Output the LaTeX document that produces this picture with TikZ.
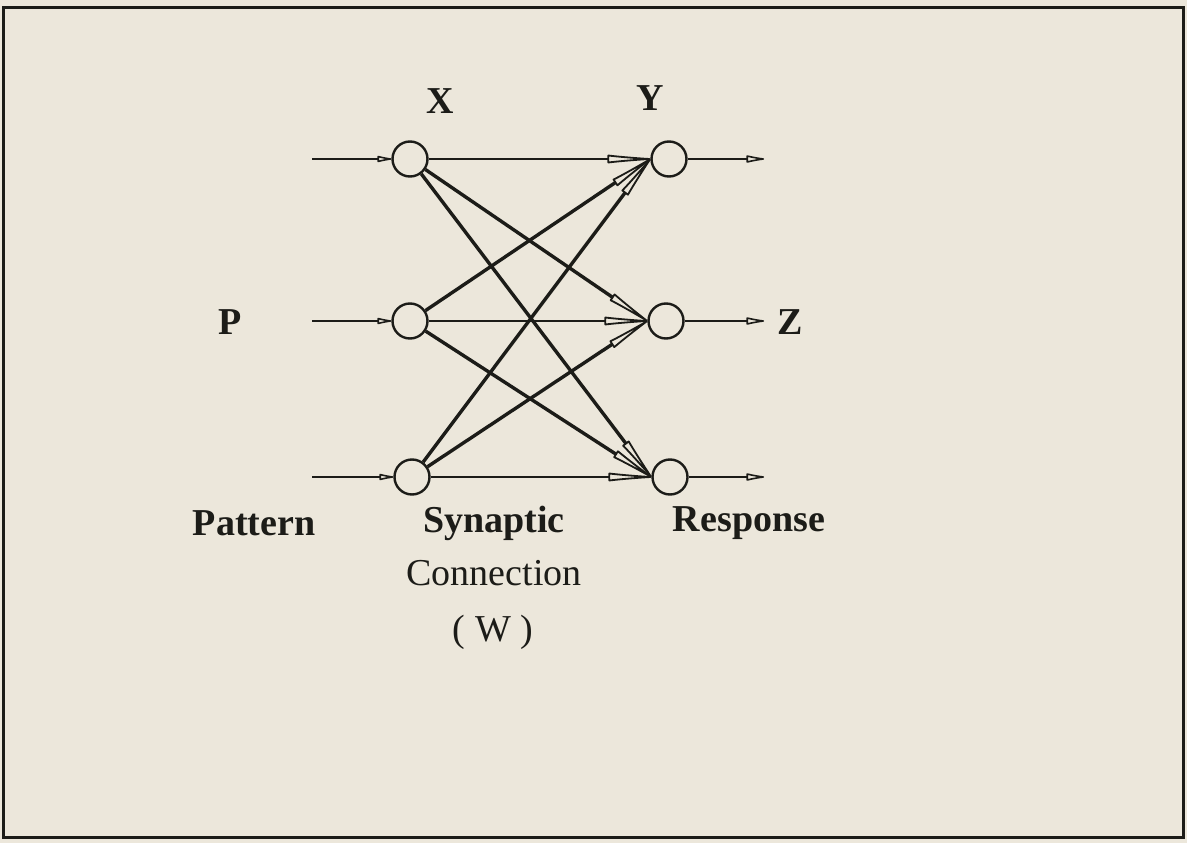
\documentclass[tikz,border=0pt]{standalone}
\usepackage{fontspec}
\setmainfont{Liberation Serif}
\usetikzlibrary{arrows.meta}
\definecolor{paper}{HTML}{ECE7DB}
\definecolor{ink}{HTML}{1C1C18}
\begin{document}
\begin{tikzpicture}[x=1pt,y=-1pt,
  neuron/.style={circle, draw=ink, line width=2.4pt, minimum size=35pt, inner sep=0pt},
  syn/.style={draw=ink, line width=3.4pt, -{Latex[open,round,length=60pt,width=9pt,line width=1.8pt]}},
  hor/.style={draw=ink, line width=2.2pt, -{Latex[open,round,length=60pt,width=9pt,line width=1.8pt]}},
  inarr/.style={draw=ink, line width=2pt, -{Latex[open,round,length=20pt,width=7pt,line width=1.6pt]}},
  outarr/.style={draw=ink, line width=2pt, -{Latex[open,round,length=24pt,width=8pt,line width=1.6pt]}},
  blab/.style={text=ink, font=\fontsize{38}{44}\selectfont\bfseries, inner sep=0pt},
  rlab/.style={text=ink, font=\fontsize{38}{44}\selectfont, inner sep=0pt}]
\fill[paper] (0,0) rectangle (1187,843);
\useasboundingbox (0,0) rectangle (1187,843);
\draw[ink, line width=3pt] (3,8) rectangle (1183,837);

% neurons
\node[neuron] (x1) at (410,159) {};
\node[neuron] (x2) at (410,321) {};
\node[neuron] (x3) at (412,477) {};
\node[neuron] (y1) at (669,159) {};
\node[neuron] (y2) at (666,321) {};
\node[neuron] (y3) at (670,477) {};

% free ends
\coordinate (i1) at (312,159);
\coordinate (i2) at (312,321);
\coordinate (i3) at (312,477);
\coordinate (o1) at (764,159);
\coordinate (o2) at (764,321);
\coordinate (o3) at (764,477);

% inputs and outputs
\draw[inarr] (i1) -- (x1.west);
\draw[inarr] (i2) -- (x2.west);
\draw[inarr] (i3) -- (x3.west);
\draw[outarr] (y1.east) -- (o1);
\draw[outarr] (y2.east) -- (o2);
\draw[outarr] (y3.east) -- (o3);

% synaptic connections
\draw[hor] (x1) -- (y1.west);
\draw[hor] (x2) -- (y2.west);
\draw[hor] (x3) -- (y3.west);
\draw[syn] (x1) -- (y2.west);
\draw[syn] (x1) -- (y3.west);
\draw[syn] (x2) -- (y1.west);
\draw[syn] (x2) -- (y3.west);
\draw[syn] (x3) -- (y1.west);
\draw[syn] (x3) -- (y2.west);

% labels
\node[blab] (lx) at (440,101) {X};
\node[blab] (ly) at (650,98) {Y};
\node[blab] (lp) at (230,322) {P};
\node[blab] (lz) at (790,322) {Z};
\node[blab] (lpat) at (254,523) {Pattern};
\node[blab] (lsyn) at (494,523) {Synaptic};
\node[rlab] (lcon) at (494,573) {Connection};
\node[rlab] (lw) at (493,632) {( W )};
\node[blab] (lres) at (749,523) {Response};
\end{tikzpicture}
\end{document}
